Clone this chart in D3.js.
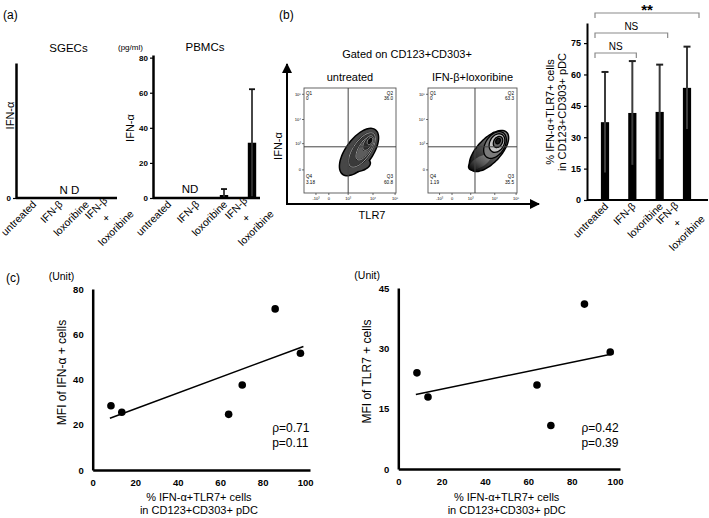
<!DOCTYPE html>
<html><head><meta charset="utf-8">
<script src="https://cdn.jsdelivr.net/npm/d3@7"></script>
<style>
html,body{margin:0;padding:0;background:#fff;}
svg{display:block;font-family:"Liberation Sans",Arial,sans-serif;}
</style></head><body>
<svg id="chart" width="709" height="518"></svg>
<script>
// ---------------- DATA ----------------
const treatments = ["untreated", "IFN-β", "loxoribine", "IFN-β + loxoribine"];
// (a) SGECs: not detected
const sgecTicks = [0];
const sgecNote = "N D";
// (a) PBMCs IFN-α (pg/ml)
const pbmcTicks = [0, 20, 40, 60, 80];
const pbmcMean = [null, null, 1.7, 31.5];
const pbmcErr = [null, null, 3.4, 30.5];
const pbmcNote = "ND";
// (b) flow cytometry
const flowTitles = ["untreated", "IFN-β+loxoribine"];
const quadNames = ["Q1", "Q2", "Q3", "Q4"];
const quadUntreated = ["0", "36.0", "60.8", "3.18"];
const quadIfnLox = ["0", "63.3", "35.5", "1.19"];
const flowXTickLabels = ["-10³", "0", "10³", "10⁴", "10⁵"];
const flowXTickPos = [13, 27, 48, 75, 99];
const flowYTickLabels = ["0", "10³", "10⁴", "10⁵"];
const flowYTickPos = [22, 47, 70, 94];
const gateUntreated = [48, 44];
const gateIfnLox = [52.8, 44];
// contour ellipses: [centre x, centre y, semi-axis a, semi-axis b, angle°, level] (channel units)
const contourUntreated = [[59.8, 39, 27, 13, 48, 0], [56.5, 26.7, 15, 6, 8, 0], [63, 41, 20, 9, 50, 1], [66.3, 43, 14, 6, 52, 2], [69.6, 47.6, 8, 4, 55, 3], [71.7, 49.5, 4, 2.5, 55, 4]];
const contourIfnLox = [[68.5, 40, 26, 11.5, 40, 0], [58.4, 29.5, 13, 5, 25, 0], [75.3, 45.7, 15, 10, 45, 1], [77.5, 47.6, 10, 7.5, 45, 2], [78.7, 48.6, 6, 4.5, 45, 3], [78.7, 49.5, 3, 2.2, 45, 4]];
// (b) % IFN-α+TLR7+ cells in pDC
const pdcTicks = [0, 15, 30, 45, 60, 75];
const pdcMean = [37.2, 41.6, 42.1, 53.6];
const pdcSD = [24.0, 24.8, 22.6, 19.7];
const sigPairs = [[0, 1, "NS"], [0, 2, "NS"], [0, 3, "**"]];
// (c) correlations
const pdcPct = [8.6, 13.7, 64.0, 70.4, 85.9, 97.8];
const mfiIfn = [28.4, 25.5, 24.6, 37.6, 71.2, 51.6];
const mfiTlr7 = [23.9, 17.9, 20.9, 10.8, 41.0, 29.1];
const scatterXTicks = [0, 20, 40, 60, 80, 100];
const ifnYTicks = [0, 20, 40, 60, 80];
const tlr7YTicks = [0, 15, 30, 45];
const corrIfn = ["ρ=0.71", "p=0.11"];
const corrTlr7 = ["ρ=0.42", "p=0.39"];

// ---------------- HELPERS ----------------
const FONT = "'Liberation Sans', Arial, sans-serif";
const svg = d3.select("#chart");

function txt(g, x, y, s, o = {}) {
  const t = g.append("text").attr("x", x).attr("y", y).text(s)
    .attr("font-size", o.size || 11).attr("font-weight", o.weight || "normal")
    .attr("text-anchor", o.anchor || "start").attr("fill", o.fill || "#000")
    .attr("font-family", FONT);
  if (o.rotate) t.attr("transform", `rotate(${o.rotate},${x},${y})`);
  return t;
}
function styleAxis(sel, fs, sw) {
  sel.attr("font-family", FONT).attr("font-size", fs).attr("font-weight", "bold");
  sel.select(".domain").attr("stroke-width", sw).attr("stroke", "#000");
  sel.selectAll(".tick line").attr("stroke-width", 1.2).attr("stroke", "#000");
  sel.selectAll(".tick text").attr("fill", "#000");
}
function catLabels(g, xs, axisY, mdx = -6, mdy = 20) {
  treatments.forEach(c => {
    const cx = xs(c);
    if (c.includes(" + ")) {
      const parts = c.split(" ");
      const t = g.append("text").attr("transform", `translate(${cx + mdx},${axisY + mdy}) rotate(-45)`)
        .attr("text-anchor", "middle").attr("font-size", 10.5).attr("font-family", FONT);
      parts.forEach((p, i) => t.append("tspan").attr("x", 0).attr("y", (i - 1) * 14).attr("dy", "0.35em").text(p));
    } else {
      g.append("text").attr("transform", `translate(${cx + 4},${axisY + 7}) rotate(-45)`)
        .attr("text-anchor", "end").attr("font-size", 10.5).attr("font-family", FONT).text(c);
    }
  });
}
function hLine(g, x1, x2, y, sw) {
  g.append("line").attr("x1", x1).attr("x2", x2).attr("y1", y).attr("y2", y)
    .attr("stroke", "#000").attr("stroke-width", sw);
}

// ---------------- PANEL LABELS ----------------
txt(svg, 3, 19, "(a)", { size: 12 });
txt(svg, 279, 19, "(b)", { size: 12 });
txt(svg, 6, 282, "(c)", { size: 12 });

// ---------------- (a) SGECs ----------------
{
  const L = { l: 16, r: 117, t: 63, b: 198 };
  const g = svg.append("g");
  const x = d3.scalePoint().domain(treatments).range([L.l + 17, L.r - 5]);
  const y = d3.scaleLinear().domain([0, 1]).range([L.b, L.t]);
  const ax = g.append("g").attr("transform", `translate(${L.l},0)`)
    .call(d3.axisLeft(y).tickValues(sgecTicks).tickFormat(d3.format("d")).tickSize(3).tickSizeOuter(0).tickPadding(2));
  styleAxis(ax, 8, 2.5);
  hLine(g, L.l, L.r, L.b, 2.5);
  txt(g, (L.l + L.r) / 2 + 2, 52, "SGECs", { size: 11.5, anchor: "middle" });
  txt(g, 14, (L.t + L.b) / 2 - 15, "IFN-α", { size: 11, anchor: "middle", rotate: -90 });
  txt(g, (L.l + L.r) / 2 + 3, L.b - 4, sgecNote, { size: 11.5, anchor: "middle" });
  catLabels(g, x, L.b);
}

// ---------------- (a) PBMCs ----------------
{
  const L = { l: 153, r: 260, t: 55, b: 198 };
  const g = svg.append("g");
  const x = d3.scalePoint().domain(treatments).range([L.l + 15, L.r - 8]);
  const y = d3.scaleLinear().domain([0, 81.5]).range([L.b, L.t]);
  const ax = g.append("g").attr("transform", `translate(${L.l},0)`)
    .call(d3.axisLeft(y).tickValues(pbmcTicks).tickSize(3).tickSizeOuter(0).tickPadding(2));
  styleAxis(ax, 8, 2.5);
  const bw = x.step() * 0.3;
  treatments.forEach((c, i) => {
    if (pbmcMean[i] == null) return;
    const cx = x(c);
    g.append("rect").attr("x", cx - bw / 2).attr("y", y(pbmcMean[i])).attr("width", bw)
      .attr("height", y(0) - y(pbmcMean[i])).attr("fill", "#000");
    const lo = Math.max(0, pbmcMean[i] - pbmcErr[i]), hi = pbmcMean[i] + pbmcErr[i];
    g.append("line").attr("x1", cx).attr("x2", cx).attr("y1", y(lo)).attr("y2", y(hi))
      .attr("stroke", "#333").attr("stroke-width", 1.8);
    g.append("line").attr("x1", cx - 3).attr("x2", cx + 3).attr("y1", y(hi)).attr("y2", y(hi))
      .attr("stroke", "#111").attr("stroke-width", 1.8);
  });
  hLine(g, L.l, L.r, L.b, 2.5);
  txt(g, 118, 50, "(pg/ml)", { size: 8 });
  txt(g, 205, 51, "PBMCs", { size: 11.5, anchor: "middle" });
  txt(g, 134, 128, "IFN-α", { size: 11, anchor: "middle", rotate: -90 });
  txt(g, x(treatments[1]) - 6, L.b - 5, pbmcNote, { size: 11.5, anchor: "middle" });
  catLabels(g, x, L.b);
}

// ---------------- (b) flow plots ----------------
{
  const g = svg.append("g");
  const defs = svg.append("defs");
  const grad = defs.append("linearGradient").attr("id", "tail").attr("x1", 0).attr("y1", 1).attr("x2", 1).attr("y2", 0);
  grad.append("stop").attr("offset", "0%").attr("stop-color", "#050505");
  grad.append("stop").attr("offset", "50%").attr("stop-color", "#555");
  grad.append("stop").attr("offset", "100%").attr("stop-color", "#8a8a8a");

  // big axes arrows
  const ax0 = 287, ay0 = 204, axTop = 64, axRight = 539;
  defs.append("marker").attr("id", "arr").attr("viewBox", "0 0 10 10").attr("refX", 9).attr("refY", 5)
    .attr("markerWidth", 5).attr("markerHeight", 5).attr("orient", "auto")
    .append("path").attr("d", "M0,0L10,5L0,10z").attr("fill", "#000");
  g.append("line").attr("x1", ax0).attr("y1", ay0 + 1).attr("x2", ax0).attr("y2", axTop)
    .attr("stroke", "#000").attr("stroke-width", 2).attr("marker-end", "url(#arr)");
  g.append("line").attr("x1", ax0 - 1).attr("y1", ay0).attr("x2", axRight).attr("y2", ay0)
    .attr("stroke", "#000").attr("stroke-width", 2).attr("marker-end", "url(#arr)");
  txt(g, 282, 146, "IFN-α", { size: 11, anchor: "middle", rotate: -90 });
  txt(g, 372, 219, "TLR7", { size: 11, anchor: "middle" });
  txt(g, 407, 58, "Gated on CD123+CD303+", { size: 11, anchor: "middle" });

  const boxes = [
    { x0: 304, x1: 396, quads: quadUntreated, gate: gateUntreated, cont: contourUntreated, title: flowTitles[0], kind: 0 },
    { x0: 428, x1: 517, quads: quadIfnLox, gate: gateIfnLox, cont: contourIfnLox, title: flowTitles[1], kind: 1 }
  ];
  const by0 = 88, by1 = 193;
  boxes.forEach(B => {
    const xs = d3.scaleLinear().domain([0, 100]).range([B.x0, B.x1]);
    const ys = d3.scaleLinear().domain([0, 100]).range([by1, by0]);
    const bg = g.append("g");
    txt(bg, (B.x0 + B.x1) / 2, 81, B.title, { size: 11, anchor: "middle" });
    bg.append("rect").attr("x", B.x0).attr("y", by0).attr("width", B.x1 - B.x0).attr("height", by1 - by0)
      .attr("fill", "#fff").attr("stroke", "#555").attr("stroke-width", 0.9);
    const line = d3.line().curve(d3.curveCardinalClosed);
    const paths = B.cont.map(c => {
      const [cx, cy, a, b, ang, lev] = c;
      const th = ang * Math.PI / 180;
      const pts = d3.range(48).map(k => {
        const t = k / 48 * 2 * Math.PI, u = a * Math.cos(t), v = b * Math.sin(t);
        return [xs(cx + u * Math.cos(th) - v * Math.sin(th)), ys(cy + u * Math.sin(th) + v * Math.cos(th))];
      });
      return { d: line(pts), lev };
    });
    const outer = paths.filter(p => p.lev === 0);
    outer.forEach(p => bg.append("path").attr("d", p.d).attr("fill", "none").attr("stroke", "#000").attr("stroke-width", 3));
    outer.forEach(p => bg.append("path").attr("d", p.d).attr("fill", B.kind === 0 ? "#474747" : "url(#tail)"));
    paths.filter(p => p.lev > 0).forEach(p => {
      let fill;
      if (B.kind === 0) fill = ["", "#3a3a3a", "#5c5c5c", "#2c2c2c", "#111"][p.lev];
      else fill = ["", "#7a7a7a", "#c4c4c4", "#666", "#161616"][p.lev];
      bg.append("path").attr("d", p.d).attr("fill", fill).attr("stroke", "#000").attr("stroke-width", 1.3);
      if (B.kind === 0) bg.append("path").attr("d", p.d).attr("fill", "none").attr("stroke", "#fff").attr("stroke-width", 0.6);
    });
    // gates
    bg.append("line").attr("x1", xs(B.gate[0])).attr("x2", xs(B.gate[0])).attr("y1", by0).attr("y2", by1).attr("stroke", "#444").attr("stroke-width", 1);
    bg.append("line").attr("x1", B.x0).attr("x2", B.x1).attr("y1", ys(B.gate[1])).attr("y2", ys(B.gate[1])).attr("stroke", "#444").attr("stroke-width", 1);
    // quadrant labels
    const qf = 4.6;
    txt(bg, B.x0 + 2, by0 + 7, quadNames[0], { size: qf });
    txt(bg, B.x0 + 2, by0 + 12, B.quads[0], { size: qf });
    txt(bg, B.x1 - 3, by0 + 7, quadNames[1], { size: qf, anchor: "end" });
    txt(bg, B.x1 - 3, by0 + 12, B.quads[1], { size: qf, anchor: "end" });
    txt(bg, B.x1 - 3, by1 - 15, quadNames[2], { size: qf, anchor: "end" });
    txt(bg, B.x1 - 3, by1 - 9, B.quads[2], { size: qf, anchor: "end" });
    txt(bg, B.x0 + 2, by1 - 15, quadNames[3], { size: qf });
    txt(bg, B.x0 + 2, by1 - 9, B.quads[3], { size: qf });
    // ticks
    flowYTickPos.forEach((p, i) => {
      bg.append("line").attr("x1", B.x0 - 2).attr("x2", B.x0).attr("y1", ys(p)).attr("y2", ys(p)).attr("stroke", "#333").attr("stroke-width", 0.7);
      txt(bg, B.x0 - 3, ys(p) + 1.5, flowYTickLabels[i], { size: 4, anchor: "end" });
    });
    flowXTickPos.forEach((p, i) => {
      bg.append("line").attr("x1", xs(p)).attr("x2", xs(p)).attr("y1", by1).attr("y2", by1 + 2).attr("stroke", "#333").attr("stroke-width", 0.7);
      txt(bg, xs(p), by1 + 7, flowXTickLabels[i], { size: 4, anchor: "middle" });
    });
  });
}

// ---------------- (b) bar chart ----------------
{
  const L = { l: 587, r: 708, t: 23, b: 200 };
  const g = svg.append("g");
  const x = d3.scalePoint().domain(treatments).range([L.l + 18, L.r - 21]);
  const y = d3.scaleLinear().domain([0, 84.6]).range([L.b, L.t]);
  const bw = x.step() * 0.3;
  treatments.forEach((c, i) => {
    const cx = x(c);
    g.append("rect").attr("x", cx - bw / 2).attr("y", y(pdcMean[i])).attr("width", bw)
      .attr("height", y(0) - y(pdcMean[i])).attr("fill", "#000");
    const lo = pdcMean[i] - pdcSD[i], hi = pdcMean[i] + pdcSD[i];
    g.append("line").attr("x1", cx).attr("x2", cx).attr("y1", y(lo)).attr("y2", y(hi))
      .attr("stroke", "#3c3c3c").attr("stroke-width", 2);
    g.append("line").attr("x1", cx - 3.5).attr("x2", cx + 3.5).attr("y1", y(hi)).attr("y2", y(hi))
      .attr("stroke", "#222").attr("stroke-width", 2);
  });
  const ax = g.append("g").attr("transform", `translate(${L.l},0)`)
    .call(d3.axisLeft(y).tickValues(pdcTicks).tickSize(3).tickSizeOuter(0).tickPadding(3));
  styleAxis(ax, 9, 2);
  hLine(g, L.l, L.r, L.b, 2);
  catLabels(g, x, L.b, -10, 23);
  txt(g, 554, 112, "% IFN-α+TLR7+ cells", { size: 11, anchor: "middle", rotate: -90 });
  txt(g, 566, 112, "in CD123+CD303+ pDC", { size: 11, anchor: "middle", rotate: -90 });
  // significance brackets
  sigPairs.forEach(([a, b, lab], k) => {
    const yl = 53 - 20 * k;
    const xl = x(treatments[a]) - 10, xr = x(treatments[b]) + 4 * b;
    g.append("path").attr("d", `M${xl},${yl + 5}V${yl}H${xr}V${yl + 5}`)
      .attr("fill", "none").attr("stroke", "#8a8a8a").attr("stroke-width", 1.2);
    if (lab === "**") txt(g, (xl + xr) / 2, yl + 2, lab, { size: 15, weight: "bold", anchor: "middle" });
    else txt(g, (xl + xr) / 2, yl - 3, lab, { size: 10, anchor: "middle" });
  });
}

// ---------------- (c) scatter plots ----------------
function scatter(L, yTicks, yMax, yVals, yLabel, corr) {
  const g = svg.append("g");
  const x = d3.scaleLinear().domain([0, 102.3]).range([L.l, L.r]);
  const y = d3.scaleLinear().domain([0, yMax]).range([L.b, L.t]);
  const ax = g.append("g").attr("transform", `translate(0,${L.b})`)
    .call(d3.axisBottom(x).tickValues(scatterXTicks).tickSize(0).tickSizeOuter(0).tickPadding(9));
  styleAxis(ax, 9.5, 2.5);
  const ay = g.append("g").attr("transform", `translate(${L.l},0)`)
    .call(d3.axisLeft(y).tickValues(yTicks).tickSize(0).tickSizeOuter(0).tickPadding(9));
  styleAxis(ay, 9.5, 2.5);
  // least-squares trend line
  const mx = d3.mean(pdcPct), my = d3.mean(yVals);
  const sxy = d3.sum(pdcPct, (v, i) => (v - mx) * (yVals[i] - my));
  const sxx = d3.sum(pdcPct, v => (v - mx) * (v - mx));
  const slope = sxy / sxx, icpt = my - slope * mx;
  const xa = d3.min(pdcPct) - 0.5, xb = 99.2;
  g.append("line").attr("x1", x(xa)).attr("y1", y(icpt + slope * xa)).attr("x2", x(xb)).attr("y2", y(icpt + slope * xb))
    .attr("stroke", "#000").attr("stroke-width", 1.6);
  g.selectAll("circle.pt").data(pdcPct).join("circle").attr("class", "pt")
    .attr("cx", d => x(d)).attr("cy", (d, i) => y(yVals[i])).attr("r", 3.8).attr("fill", "#000");
  txt(g, L.l - 44, L.t - 9, "(Unit)", { size: 10.5 });
  txt(g, L.l - 27, (L.t + L.b) / 2 - 7, yLabel, { size: 12, anchor: "middle", rotate: -90 });
  const cxm = x(50);
  txt(g, cxm, 501, "% IFN-α+TLR7+ cells", { size: 11, anchor: "middle" });
  txt(g, cxm, 514, "in CD123+CD303+ pDC", { size: 11, anchor: "middle" });
  txt(g, x(84.5), 432, corr[0], { size: 12 });
  txt(g, x(84.5), 447, corr[1], { size: 12 });
}
scatter({ l: 92.7, r: 310, t: 289, b: 470 }, ifnYTicks, 80, mfiIfn, "MFI of IFN-α + cells", corrIfn);
scatter({ l: 398.3, r: 620, t: 288, b: 469 }, tlr7YTicks, 45, mfiTlr7, "MFI of TLR7 + cells", corrTlr7);
</script>
</body></html>
